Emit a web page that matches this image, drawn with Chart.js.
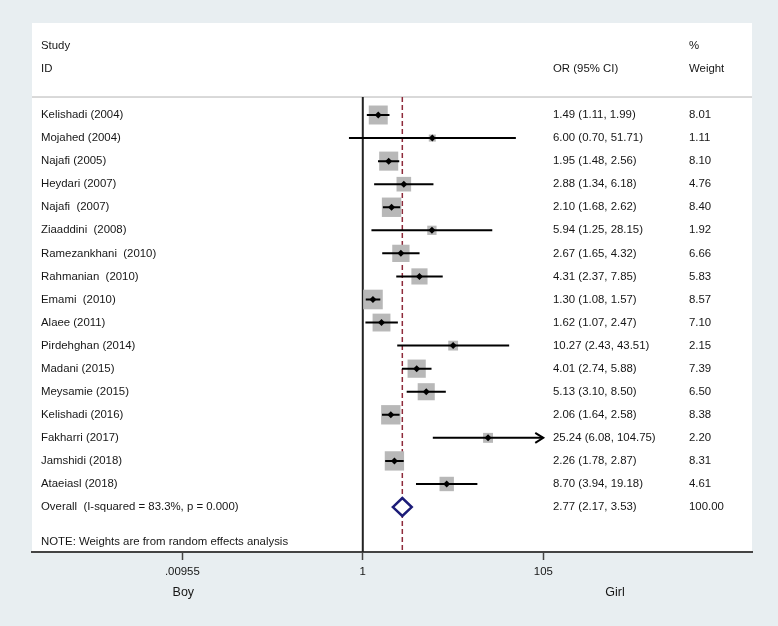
<!DOCTYPE html>
<html lang="en">
<head>
<meta charset="UTF-8">
<title>Forest plot - OR Boy vs Girl</title>
<script src="https://cdn.jsdelivr.net/npm/chart.js"></script>
<style>
    html, body {
        margin: 0;
        padding: 0;
        background: #e8eef1;
    }
    #wrap {
        width: 778px;
        height: 626px;
        position: relative;
    }
</style>
</head>
<body>
<div id="wrap"><canvas id="forest"></canvas></div>
<script>
// study data
const studies = ['Kelishadi (2004)', 'Mojahed (2004)', 'Najafi (2005)', 'Heydari (2007)', 'Najafi  (2007)',
    'Ziaaddini  (2008)', 'Ramezankhani  (2010)', 'Rahmanian  (2010)', 'Emami  (2010)', 'Alaee (2011)',
    'Pirdehghan (2014)', 'Madani (2015)', 'Meysamie (2015)', 'Kelishadi (2016)', 'Fakharri (2017)',
    'Jamshidi (2018)', 'Ataeiasl (2018)'];
const orValues = [1.49, 6.00, 1.95, 2.88, 2.10, 5.94, 2.67, 4.31, 1.30, 1.62, 10.27, 4.01, 5.13, 2.06, 25.24, 2.26, 8.70];
const ciLower = [1.11, 0.70, 1.48, 1.34, 1.68, 1.25, 1.65, 2.37, 1.08, 1.07, 2.43, 2.74, 3.10, 1.64, 6.08, 1.78, 3.94];
const ciUpper = [1.99, 51.71, 2.56, 6.18, 2.62, 28.15, 4.32, 7.85, 1.57, 2.47, 43.51, 5.88, 8.50, 2.58, 104.75, 2.87, 19.18];
const weights = [8.01, 1.11, 8.10, 4.76, 8.40, 1.92, 6.66, 5.83, 8.57, 7.10, 2.15, 7.39, 6.50, 8.38, 2.20, 8.31, 4.61];

const overallLabel = 'Overall  (I-squared = 83.3%, p = 0.000)';
const overallOR = 2.77;
const overallLower = 2.17;
const overallUpper = 3.53;
const overallWeight = 100.00;

const tickValues = [0.00955, 1, 105];
const tickLabels = ['.00955', '1', '105'];

const FONT = '"Liberation Sans", Arial, sans-serif';
const TXT = '#161616';
const overallRow = studies.length;

function fmt(v) { return v.toFixed(2); }

// datasets
const pointData = orValues.map((v, i) => ({ x: v, y: i }));
let ciData = [];
studies.forEach((s, i) => {
    ciData.push({ x: ciLower[i], y: i });
    ciData.push({ x: ciUpper[i], y: i });
    ciData.push({ x: ciUpper[i], y: null });
});
// box area proportional to weight
const boxRadius = weights.map(w => 6.7 * Math.sqrt(w) / Math.SQRT2);

const forestPlugin = {
    id: 'forest',
    beforeDraw(chart) {
        const { ctx, chartArea: a } = chart;
        ctx.save();
        ctx.fillStyle = '#ffffff';
        ctx.fillRect(a.left, a.top, a.right - a.left, a.bottom - a.top);
        ctx.restore();
    },
    beforeDatasetsDraw(chart) {
        const { ctx, chartArea: a, scales: { x, y } } = chart;
        const headY = y.getPixelForValue(-0.78);
        ctx.save();
        // header separator
        ctx.strokeStyle = '#b4b4b4';
        ctx.lineWidth = 1;
        ctx.beginPath();
        ctx.moveTo(a.left, headY);
        ctx.lineTo(a.right, headY);
        ctx.stroke();
        // no effect line
        const x1 = x.getPixelForValue(1);
        ctx.strokeStyle = '#222';
        ctx.lineWidth = 2;
        ctx.beginPath();
        ctx.moveTo(x1, headY);
        ctx.lineTo(x1, a.bottom);
        ctx.stroke();
        // overall effect line
        const xo = x.getPixelForValue(overallOR);
        ctx.strokeStyle = '#8e2a3a';
        ctx.lineWidth = 1.5;
        ctx.setLineDash([5, 3]);
        ctx.beginPath();
        ctx.moveTo(xo, headY);
        ctx.lineTo(xo, a.bottom);
        ctx.stroke();
        ctx.restore();
    },
    afterDatasetsDraw(chart) {
        const { ctx, chartArea: a, scales: { x, y } } = chart;
        ctx.save();
        // arrow for CI running off to the right
        ciUpper.forEach((u, i) => {
            if (u < 100) return;
            const px = x.getPixelForValue(u);
            const py = y.getPixelForValue(i);
            ctx.strokeStyle = '#000';
            ctx.lineWidth = 2;
            ctx.beginPath();
            ctx.moveTo(px - 8, py - 5);
            ctx.lineTo(px, py);
            ctx.lineTo(px - 8, py + 5);
            ctx.stroke();
        });
        // overall diamond
        const yc = y.getPixelForValue(overallRow);
        const yt = y.getPixelForValue(overallRow - 0.39);
        const yb = y.getPixelForValue(overallRow + 0.39);
        ctx.beginPath();
        ctx.moveTo(x.getPixelForValue(overallLower), yc);
        ctx.lineTo(x.getPixelForValue(overallOR), yt);
        ctx.lineTo(x.getPixelForValue(overallUpper), yc);
        ctx.lineTo(x.getPixelForValue(overallOR), yb);
        ctx.closePath();
        ctx.fillStyle = '#fff';
        ctx.fill();
        ctx.strokeStyle = '#1c1c78';
        ctx.lineWidth = 2.5;
        ctx.lineJoin = 'miter';
        ctx.stroke();

        // text columns
        const colStudy = a.left + 9;
        const colOR = a.left + 521;
        const colW = a.left + 657;
        ctx.fillStyle = TXT;
        ctx.font = '11.4px ' + FONT;
        ctx.textBaseline = 'middle';
        ctx.textAlign = 'left';
        ctx.fillText('Study', colStudy, y.getPixelForValue(-3));
        ctx.fillText('ID', colStudy, y.getPixelForValue(-2));
        ctx.fillText('OR (95% CI)', colOR, y.getPixelForValue(-2));
        ctx.fillText('%', colW, y.getPixelForValue(-3));
        ctx.fillText('Weight', colW, y.getPixelForValue(-2));
        studies.forEach((s, i) => {
            const py = y.getPixelForValue(i);
            ctx.fillText(s, colStudy, py);
            ctx.fillText(fmt(orValues[i]) + ' (' + fmt(ciLower[i]) + ', ' + fmt(ciUpper[i]) + ')', colOR, py);
            ctx.fillText(fmt(weights[i]), colW, py);
        });
        ctx.fillText(overallLabel, colStudy, yc);
        ctx.fillText(fmt(overallOR) + ' (' + fmt(overallLower) + ', ' + fmt(overallUpper) + ')', colOR, yc);
        ctx.fillText(fmt(overallWeight), colW, yc);
        ctx.fillText('NOTE: Weights are from random effects analysis', colStudy, y.getPixelForValue(18.5));

        // favours labels
        ctx.font = '12.5px ' + FONT;
        ctx.textAlign = 'center';
        ctx.fillText('Boy', x.getPixelForValue(tickValues[0]) + 1, a.bottom + 41);
        ctx.fillText('Girl', a.left + 583, a.bottom + 41);
        ctx.restore();
    }
};

new Chart(document.getElementById('forest'), {
    type: 'scatter',
    data: {
        datasets: [
            {
                label: 'OR',
                data: pointData,
                pointStyle: 'rectRot',
                pointRadius: 3.5,
                backgroundColor: '#000',
                borderWidth: 0,
                order: 0
            },
            {
                label: 'CI',
                data: ciData,
                showLine: true,
                spanGaps: false,
                borderColor: '#000',
                borderWidth: 2,
                pointRadius: 0,
                order: 1
            },
            {
                label: 'Weight',
                data: pointData,
                pointStyle: 'rect',
                pointRadius: boxRadius,
                backgroundColor: '#b8b8b8',
                borderWidth: 0,
                order: 2
            }
        ]
    },
    options: {
        responsive: true,
        maintainAspectRatio: false,
        animation: false,
        events: [],
        layout: { padding: { left: 32, right: 26, top: 23, bottom: 0 } },
        plugins: {
            legend: { display: false },
            tooltip: { enabled: false }
        },
        scales: {
            x: {
                type: 'logarithmic',
                min: Math.pow(10, -3.703),
                max: Math.pow(10, 4.357),
                bounds: 'data',
                afterBuildTicks: s => { s.ticks = tickValues.map(v => ({ value: v })); },
                afterFit: s => { s.height = 74; },
                ticks: {
                    autoSkip: false,
                    maxRotation: 0,
                    padding: 5,
                    color: TXT,
                    font: { family: FONT, size: 11.4 },
                    callback: (v, i) => tickLabels[i]
                },
                grid: {
                    drawOnChartArea: false,
                    drawTicks: true,
                    tickLength: 8,
                    tickColor: '#444',
                    tickWidth: 1.5
                },
                border: { display: true, color: '#444', width: 2 }
            },
            y: {
                type: 'linear',
                reverse: true,
                min: -3.99,
                max: 18.95,
                display: false
            }
        }
    },
    plugins: [forestPlugin]
});
</script>
</body>
</html>
